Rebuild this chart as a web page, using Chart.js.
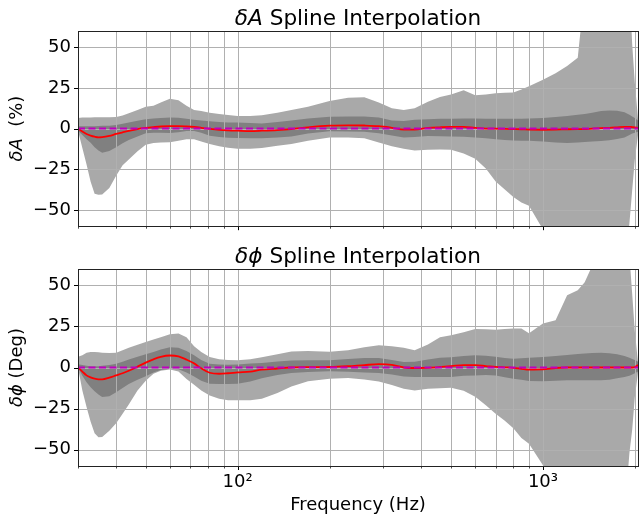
<!DOCTYPE html>
<html lang="en">
  <head>
    <meta charset="UTF-8" />
    <title>Spline Interpolation</title>
    <script src="https://cdn.jsdelivr.net/npm/chart.js@4.4.0/dist/chart.umd.min.js"></script>
    <style>
      body { margin: 0; background: #fff; }
      canvas { position: absolute; left: 0; }
    </style>
  </head>
  <body>
    <canvas id="amp" width="643" height="240" style="top:0"></canvas>
    <canvas id="phase" width="643" height="282" style="top:240px"></canvas>

    <script>
      const freqs = [30, 31, 32, 33, 34, 35, 36,
        38, 40, 42, 44, 47, 50, 53, 56, 60, 64, 68, 72, 76, 81, 87,
        93, 100, 110, 120, 135, 150, 170, 200, 230, 260, 290, 320, 350, 380, 420,
        460, 500, 550, 600, 650, 700, 750, 800, 850, 900, 1000, 1100, 1200, 1300, 1370,
        1450, 1550, 1650, 1750, 1850, 1920, 1960, 2000, 2048];

      // amplitude panel
      const ampOuterHi = [6.5, 6.8, 6.8, 6.9, 7, 7, 7,
        7, 7.2, 8, 9.5, 11.5, 13.5, 14, 16, 18.3, 17.5, 14, 11.5, 10.8, 9.8, 9,
        8.3, 7.8, 7.8, 8.2, 9.8, 11.5, 13.5, 17, 19, 19.3, 16, 12.5, 11.5, 12.5, 16.5,
        19.5, 21, 23.5, 20.5, 21, 21.8, 22, 22.2, 24, 26, 30, 34, 38.5, 43.5, 85,
        90, 90, 90, 90, 90, 90, 52, 28, 6];
      const ampInnerHi = [1.5, 1.5, 1.5, 1.5, 1.5, 1.6, 1.7,
        1.7, 2.2, 3, 3.8, 4.8, 5.8, 6.2, 6.5, 6.8, 6.6, 6, 5.5, 5, 4.5, 4,
        3.8, 3.7, 3.5, 3.2, 4, 5, 6.2, 7.3, 7.5, 7.5, 6.8, 5, 4.7, 5.5, 5.8,
        6, 6, 6.2, 6.2, 6, 6, 6, 6, 6, 6.2, 6.5, 7.2, 7.8, 8.5, 9,
        9.8, 10.8, 11.2, 11, 10, 8.5, 7.5, 6.5, 5];
      const ampMedian = [0, -1.8, -3.3, -4.3, -5, -5.4, -5.3,
        -4.5, -3.3, -2.3, -1.4, -0.3, 0.4, 0.9, 1.3, 1.5, 1.5, 1.3, 1, 0.5, -0.2, -0.8,
        -1.1, -1.3, -1.5, -1.3, -0.9, -0.3, 0.8, 1.8, 2, 1.9, 1.5, 0.5, -0.6, -0.6, 0.4,
        0.8, 1, 1, 0.4, 0, 0, -0.2, -0.3, -0.4, -0.6, -0.7, -0.6, -0.4, -0.3, -0.3,
        0, 0.3, 0.5, 0.8, 1.1, 1.1, 0.9, 0.7, 0.5];
      const ampInnerLo = [-1.3, -4, -6.5, -8.7, -11.5, -13.5, -14.8,
        -13.8, -11.4, -9, -7, -4.8, -2.8, -2.5, -2.6, -2.7, -2.2, -1.5, -1.5, -2.5, -4.4, -5.2,
        -5.6, -5.8, -5.9, -6, -5.5, -4.8, -3, -1.6, -1.8, -2, -2.8, -4.2, -5.5, -5.2, -4.6,
        -4.7, -4.8, -5, -5.5, -6, -6.5, -7, -7.3, -7.4, -7.5, -8, -8.5, -8.8, -8.6, -8.3,
        -8, -7.6, -7.2, -6.4, -5.4, -4, -3, -2.5, -2];
      const ampOuterLo = [-1.3, -12, -22, -32.6, -40, -40.7, -40.5,
        -36.5, -29, -22.5, -19, -14, -10, -8.8, -8.6, -8.4, -7.5, -6.5, -6.6, -8, -9.4, -10.8,
        -11.8, -12.4, -12.4, -12, -10.5, -9.4, -7.5, -5.5, -5.5, -6, -8.5, -10.8, -12.4, -13.4, -13,
        -12.8, -13, -15.3, -18.5, -24.5, -32.5, -37.5, -42, -45.5, -47.5, -62, -90, -90, -90, -90,
        -90, -90, -90, -90, -90, -58, -38, -19, -4];

      // phase panel
      const phaseOuterHi = [6.5, 7.5, 9, 9.5, 9.5, 9.3, 9,
        8.9, 9, 10.5, 12, 13.8, 15.6, 17, 18.5, 20.3, 20.7, 18.5, 13, 9.5, 6.4, 5,
        4.5, 4.4, 5, 6.3, 8, 9.8, 10, 9.6, 10.5, 12.3, 13.6, 13, 12, 10.5, 14,
        18.5, 19.7, 21.5, 23.5, 23.3, 23, 23.5, 23.8, 23.7, 20.8, 26.8, 28.8, 44, 47, 52,
        62, 90, 90, 90, 90, 68, 45, 22, 3];
      const phaseInnerHi = [2, 1.5, 1, 0.8, 0.8, 0.8, 1,
        1.5, 2.3, 3.5, 4.8, 6.5, 8.1, 9.5, 11, 12.3, 12, 10, 7.5, 4.5, 2.3, 1.8,
        1.7, 1.8, 2.5, 2.8, 3.7, 4.3, 4.4, 4.4, 5.2, 5.8, 5.8, 4.5, 3.4, 3.5, 4.8,
        6, 6.3, 7, 7.4, 7.2, 6.5, 5.8, 5.4, 5.6, 6, 6.4, 7, 7.6, 8.2, 8.6,
        8.9, 9, 8.7, 8.1, 7, 6, 5.2, 4.5, 3.5];
      const phaseMedian = [0, -2.5, -4.8, -6, -6.8, -7.2, -7.2,
        -6.2, -4.8, -3.5, -2, 0.5, 3, 5, 6.5, 7.3, 6.8, 4.8, 2.5, -0.5, -3.2, -3.8,
        -3.5, -3, -2.5, -1.3, -0.6, 0, 0.2, 0.3, 0.8, 1.5, 2, 1.6, 0, -0.3, -0.2,
        0.3, 0.8, 1.5, 1.4, 0.9, 0.4, 0.1, -0.2, -0.8, -1.3, -1.2, -0.3, 0, 0, 0,
        0, 0, 0, 0, 0, 0, 0, 0.2, 1.5];
      const phaseInnerLo = [0, -5, -9, -12, -14.5, -16.5, -18,
        -17.5, -15, -12.5, -10, -7.5, -5.4, -3, -1.5, -0.7, -1, -3, -5.5, -8, -9.9, -10,
        -10, -9.9, -8.5, -6.5, -4.5, -3.4, -2.8, -2.3, -2.6, -3, -3.4, -4.2, -5.5, -5.8, -5.8,
        -5.8, -5.8, -5, -4.8, -4.6, -4.8, -6, -6.8, -7.5, -8.2, -8.3, -8, -7.8, -7.8, -7.8,
        -7.8, -7.8, -7.5, -6.5, -5.8, -5, -4.2, -3.5, -2.5];
      const phaseOuterLo = [0, -14, -24, -33, -40, -42.5, -42.3,
        -38.5, -34, -28.2, -22.5, -14, -8, -3.8, -2, -1.2, -2.5, -7, -10.5, -14, -17, -19,
        -20, -20, -20, -19, -15.5, -11.5, -8.3, -6.8, -6.4, -7.3, -8.5, -10.6, -13, -14, -13,
        -12.7, -12.4, -14.2, -17.8, -23, -28.2, -32.5, -37, -43, -46.5, -59.5, -85, -90, -90, -90,
        -90, -90, -90, -90, -90, -52, -38, -18, -3];

      const refFreqs = [30, 2048];
      const refValues = [0, 0];

      const xTicks = [30, 40, 50, 60, 70, 80, 90, 100, 200, 300, 400, 500, 600, 700, 800, 900, 1000, 2000];
      const xMajor = [100, 1000];
      const xTickText = { 100: "10²", 1000: "10³" };
      const yTicks = [-50, -25, 0, 25, 50];

      Chart.defaults.font.family = "'DejaVu Sans'";
      Chart.defaults.color = "#000";

      function pts(values, xs) {
        return values.map((v, i) => ({ x: (xs || freqs)[i], y: v }));
      }

      function richText(ctx, parts, x, y, size, rotate) {
        ctx.save();
        ctx.translate(x, y);
        if (rotate) ctx.rotate(-Math.PI / 2);
        const fonts = parts.map((p) => (p[1] ? "italic " : "") + size + "px 'DejaVu Sans'");
        let total = 0;
        parts.forEach((p, i) => {
          ctx.font = fonts[i];
          total += ctx.measureText(p[0]).width;
        });
        let cx = -total / 2;
        ctx.fillStyle = "#000";
        ctx.textBaseline = rotate ? "middle" : "alphabetic";
        ctx.textAlign = "left";
        parts.forEach((p, i) => {
          ctx.font = fonts[i];
          ctx.fillText(p[0], cx, 0);
          cx += ctx.measureText(p[0]).width;
        });
        ctx.restore();
      }

      const mplLook = {
        id: "mplLook",
        beforeDatasetDraw(chart, args) {
          // grid sits above the bands but under the lines
          if (args.index !== 4) return;
          const { ctx, chartArea: a, scales } = chart;
          ctx.save();
          ctx.strokeStyle = "#b0b0b0";
          ctx.lineWidth = 1;
          ctx.beginPath();
          xTicks.forEach((v) => {
            const px = Math.round(scales.x.getPixelForValue(v)) + 0.5;
            ctx.moveTo(px, a.top);
            ctx.lineTo(px, a.bottom);
          });
          yTicks.forEach((v) => {
            const py = Math.round(scales.y.getPixelForValue(v)) + 0.5;
            ctx.moveTo(a.left, py);
            ctx.lineTo(a.right, py);
          });
          ctx.stroke();
          ctx.restore();
        },
        afterDatasetsDraw(chart) {
          const { ctx, chartArea: a, scales } = chart;
          ctx.save();
          ctx.strokeStyle = "#000";
          xTicks.forEach((v) => {
            const major = xMajor.includes(v);
            const px = Math.round(scales.x.getPixelForValue(v)) + 0.5;
            ctx.lineWidth = major ? 1 : 0.7;
            ctx.beginPath();
            ctx.moveTo(px, a.bottom);
            ctx.lineTo(px, a.bottom + (major ? 4 : 2.5));
            ctx.stroke();
          });
          ctx.lineWidth = 1;
          yTicks.forEach((v) => {
            const py = Math.round(scales.y.getPixelForValue(v)) + 0.5;
            ctx.beginPath();
            ctx.moveTo(a.left - 4, py);
            ctx.lineTo(a.left, py);
            ctx.stroke();
          });
          ctx.strokeStyle = "#222";
          ctx.strokeRect(Math.round(a.left) + 0.5, Math.round(a.top) + 0.5,
            Math.round(a.right - a.left), Math.round(a.bottom - a.top));
          ctx.restore();
        },
        afterDraw(chart) {
          const cfg = chart.config.options.mpl;
          const a = chart.chartArea;
          richText(chart.ctx, cfg.title, (a.left + a.right) / 2, a.top - 6.5, 21.6, false);
          richText(chart.ctx, cfg.ylabel, 17, (a.top + a.bottom) / 2, 18, true);
        },
      };

      function makePanel(id, data, cfg) {
        const ctx = document.getElementById(id).getContext("2d");
        return new Chart(ctx, {
          type: "line",
          data: {
            datasets: [
              { data: pts(data.outerHi), fill: "+1", backgroundColor: "#a9a9a9", borderWidth: 0, pointRadius: 0, order: 6 },
              { data: pts(data.outerLo), fill: false, borderWidth: 0, pointRadius: 0, order: 5 },
              { data: pts(data.innerHi), fill: "+1", backgroundColor: "#808080", borderWidth: 0, pointRadius: 0, order: 4 },
              { data: pts(data.innerLo), fill: false, borderWidth: 0, pointRadius: 0, order: 3 },
              { data: pts(data.median), fill: false, borderColor: "#ff0000", borderWidth: 1.8, pointRadius: 0, cubicInterpolationMode: "monotone", order: 2 },
              { data: pts(refValues, refFreqs), fill: false, borderColor: "#bf00bf", borderWidth: 2, borderDash: [7, 3.5], pointRadius: 0, order: 1 },
            ],
          },
          options: {
            responsive: false,
            animation: false,
            devicePixelRatio: 1,
            mpl: cfg,
            layout: { padding: { left: 0, right: 5, top: cfg.top, bottom: 0 } },
            plugins: { legend: { display: false }, tooltip: { enabled: false } },
            scales: {
              x: {
                type: "logarithmic",
                min: 30,
                max: 2048,
                afterBuildTicks: (s) => { s.ticks = xTicks.map((v) => ({ value: v })); },
                afterFit: (s) => { s.height = cfg.xHeight; },
                border: { display: false },
                grid: { drawOnChartArea: false, drawTicks: true, tickLength: 4, tickColor: "rgba(0,0,0,0)" },
                ticks: {
                  autoSkip: false,
                  maxRotation: 0,
                  padding: 2,
                  font: { size: 18 },
                  callback: (v) => (cfg.xLabels ? xTickText[v] || "" : ""),
                },
                title: {
                  display: !!cfg.xTitle,
                  text: cfg.xTitle || "",
                  font: { size: 18 },
                  padding: { top: 0, bottom: 6 },
                },
              },
              y: {
                min: -60,
                max: 60,
                afterBuildTicks: (s) => { s.ticks = yTicks.map((v) => ({ value: v })); },
                afterFit: (s) => { s.width = 78; },
                border: { display: false },
                grid: { drawOnChartArea: false, drawTicks: true, tickLength: 4, tickColor: "rgba(0,0,0,0)" },
                ticks: {
                  padding: 3,
                  font: { size: 18 },
                  callback: (v) => String(v).replace("-", "\u2212"),
                },
              },
            },
          },
          plugins: [mplLook],
        });
      }

      makePanel("amp",
        { outerHi: ampOuterHi, outerLo: ampOuterLo, innerHi: ampInnerHi, innerLo: ampInnerLo, median: ampMedian },
        { top: 31, xHeight: 11, xLabels: false,
          title: [["δA", true], [" Spline Interpolation", false]],
          ylabel: [["δA", true], ["  (%)", false]] });

      makePanel("phase",
        { outerHi: phaseOuterHi, outerLo: phaseOuterLo, innerHi: phaseInnerHi, innerLo: phaseInnerLo, median: phaseMedian },
        { top: 29, xHeight: 56, xLabels: true, xTitle: "Frequency (Hz)",
          title: [["δϕ", true], [" Spline Interpolation", false]],
          ylabel: [["δϕ", true], [" (Deg)", false]] });
    </script>
  </body>
</html>
